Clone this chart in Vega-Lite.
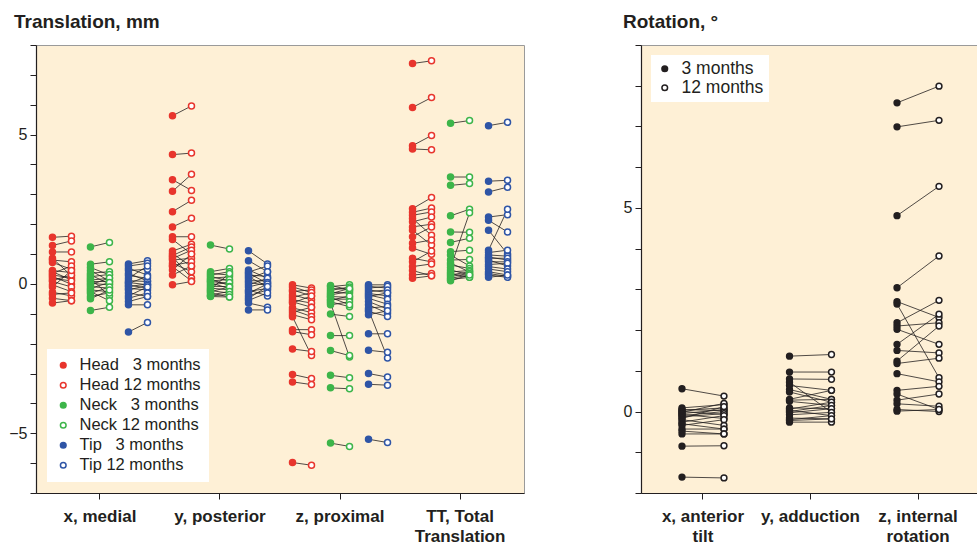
{
  "$schema": "https://vega.github.io/schema/vega-lite/v6.json",
  "padding": {"left": 8, "top": 12, "right": 0, "bottom": 0},
  "spacing": 97,
  "resolve": {"scale": {"fill": "independent", "stroke": "independent", "xOffset": "independent", "x": "independent", "y": "independent"}, "legend": {"fill": "independent", "stroke": "independent"}},
  "config": {
    "font": "Liberation Sans",
    "view": {"fill": "#FEF0D6", "stroke": "#9a9a9a", "strokeWidth": 1},
    "axis": {"domainColor": "#231f20", "tickColor": "#231f20", "labelColor": "#231f20", "labelFontSize": 16, "tickSize": 6, "grid": false, "labelFont": "Liberation Sans", "domainWidth": 1.2},
    "axisX": {"labelFontWeight": "bold", "labelFontSize": 17, "labelAngle": 0, "labelPadding": 9, "labelLineHeight": 20},
    "axisY": {"labelPadding": 3},
    "title": {"fontSize": 19, "fontWeight": "bold", "anchor": "start", "frame": "group", "color": "#231f20", "offset": 13},
    "legend": {"fillColor": "white", "labelFontSize": 16.5, "labelColor": "#231f20", "labelFont": "Liberation Sans", "symbolSize": 32, "symbolStrokeWidth": 1.5, "labelOffset": 8}
  },
  "datasets": {
    "trans": [
      {"c":"x, medial","s":1,"h3":1.56,"h12":1.60,"n3":1.24,"n12":1.39,"t3":0.67,"t12":0.78},
      {"c":"x, medial","s":2,"h3":1.29,"h12":1.44,"n3":0.66,"n12":0.74,"t3":0.60,"t12":0.69},
      {"c":"x, medial","s":3,"h3":1.07,"h12":1.07,"n3":0.55,"n12":0.30,"t3":0.52,"t12":0.30},
      {"c":"x, medial","s":4,"h3":0.86,"h12":0.27,"n3":0.45,"n12":0.10,"t3":0.45,"t12":0.49},
      {"c":"x, medial","s":5,"h3":0.80,"h12":0.74,"n3":0.36,"n12":0.41,"t3":0.35,"t12":0.10},
      {"c":"x, medial","s":6,"h3":0.72,"h12":0.49,"n3":0.30,"n12":0.00,"t3":0.28,"t12":0.19},
      {"c":"x, medial","s":7,"h3":0.45,"h12":0.38,"n3":0.24,"n12":0.32,"t3":0.19,"t12":0.60},
      {"c":"x, medial","s":8,"h3":0.41,"h12":0.13,"n3":0.18,"n12":-0.40,"t3":0.11,"t12":0.08},
      {"c":"x, medial","s":9,"h3":0.35,"h12":0.60,"n3":0.13,"n12":0.19,"t3":0.05,"t12":-0.03},
      {"c":"x, medial","s":10,"h3":0.30,"h12":0.20,"n3":0.08,"n12":0.08,"t3":0.02,"t12":0.25},
      {"c":"x, medial","s":11,"h3":0.25,"h12":-0.01,"n3":0.02,"n12":-0.03,"t3":-0.04,"t12":-0.14},
      {"c":"x, medial","s":12,"h3":0.19,"h12":0.10,"n3":-0.03,"n12":0.20,"t3":-0.09,"t12":0.00},
      {"c":"x, medial","s":13,"h3":0.12,"h12":0.30,"n3":-0.09,"n12":-0.14,"t3":-0.15,"t12":-0.20},
      {"c":"x, medial","s":14,"h3":0.08,"h12":-0.10,"n3":-0.15,"n12":0.05,"t3":-0.20,"t12":-0.05},
      {"c":"x, medial","s":15,"h3":-0.03,"h12":-0.26,"n3":-0.20,"n12":-0.26,"t3":-0.30,"t12":-0.42},
      {"c":"x, medial","s":16,"h3":-0.10,"h12":0.45,"n3":-0.26,"n12":-0.56,"t3":-0.40,"t12":-0.10},
      {"c":"x, medial","s":17,"h3":-0.28,"h12":-0.40,"n3":-0.32,"n12":-0.10,"t3":-0.48,"t12":-0.30},
      {"c":"x, medial","s":18,"h3":-0.35,"h12":-0.30,"n3":-0.42,"n12":-0.30,"t3":-0.59,"t12":-0.42},
      {"c":"x, medial","s":19,"h3":-0.48,"h12":-0.56,"n3":-0.50,"n12":-0.20,"t3":-0.70,"t12":-0.70},
      {"c":"x, medial","s":20,"h3":-0.64,"h12":-0.56,"n3":-0.89,"n12":-0.78,"t3":-1.61,"t12":-1.29},
      {"c":"y, posterior","s":1,"h3":5.63,"h12":5.96,"n3":1.30,"n12":1.17,"t3":1.11,"t12":0.67},
      {"c":"y, posterior","s":2,"h3":4.33,"h12":4.38,"n3":0.41,"n12":0.52,"t3":0.78,"t12":0.41},
      {"c":"y, posterior","s":3,"h3":3.49,"h12":3.13,"n3":0.35,"n12":0.30,"t3":0.47,"t12":0.19},
      {"c":"y, posterior","s":4,"h3":3.10,"h12":3.67,"n3":0.30,"n12":0.41,"t3":0.40,"t12":0.60},
      {"c":"y, posterior","s":5,"h3":2.42,"h12":2.80,"n3":0.25,"n12":0.10,"t3":0.36,"t12":0.02},
      {"c":"y, posterior","s":6,"h3":1.91,"h12":2.20,"n3":0.19,"n12":0.24,"t3":0.30,"t12":0.25},
      {"c":"y, posterior","s":7,"h3":1.58,"h12":1.58,"n3":0.15,"n12":-0.05,"t3":0.24,"t12":-0.09},
      {"c":"y, posterior","s":8,"h3":1.49,"h12":1.00,"n3":0.10,"n12":0.15,"t3":0.18,"t12":0.41},
      {"c":"y, posterior","s":9,"h3":1.10,"h12":1.33,"n3":0.08,"n12":0.02,"t3":0.11,"t12":0.10},
      {"c":"y, posterior","s":10,"h3":1.02,"h12":0.58,"n3":0.03,"n12":-0.15,"t3":0.05,"t12":-0.05},
      {"c":"y, posterior","s":11,"h3":0.95,"h12":1.24,"n3":-0.03,"n12":0.05,"t3":-0.03,"t12":0.19},
      {"c":"y, posterior","s":12,"h3":0.91,"h12":0.20,"n3":-0.08,"n12":-0.09,"t3":-0.10,"t12":0.05},
      {"c":"y, posterior","s":13,"h3":0.85,"h12":1.13,"n3":-0.14,"n12":-0.20,"t3":-0.20,"t12":-0.40},
      {"c":"y, posterior","s":14,"h3":0.80,"h12":0.86,"n3":-0.18,"n12":0.35,"t3":-0.25,"t12":-0.15},
      {"c":"y, posterior","s":15,"h3":0.69,"h12":0.41,"n3":-0.22,"n12":-0.31,"t3":-0.31,"t12":0.00},
      {"c":"y, posterior","s":16,"h3":0.62,"h12":0.74,"n3":-0.26,"n12":-0.10,"t3":-0.40,"t12":-0.20},
      {"c":"y, posterior","s":17,"h3":0.58,"h12":0.10,"n3":-0.30,"n12":-0.44,"t3":-0.48,"t12":-0.09},
      {"c":"y, posterior","s":18,"h3":0.47,"h12":1.00,"n3":-0.37,"n12":-0.25,"t3":-0.55,"t12":-0.30},
      {"c":"y, posterior","s":19,"h3":0.30,"h12":0.60,"n3":-0.40,"n12":-0.35,"t3":-0.64,"t12":-0.78},
      {"c":"y, posterior","s":20,"h3":-0.03,"h12":0.08,"n3":-0.42,"n12":-0.44,"t3":-0.87,"t12":-0.87},
      {"c":"z, proximal","s":1,"h3":-0.03,"h12":-0.14,"n3":-0.09,"n12":-0.03,"t3":-0.03,"t12":-0.03},
      {"c":"z, proximal","s":2,"h3":-0.10,"h12":-0.29,"n3":-0.15,"n12":-0.18,"t3":-0.08,"t12":-0.14},
      {"c":"z, proximal","s":3,"h3":-0.20,"h12":-0.40,"n3":-0.22,"n12":-0.10,"t3":-0.14,"t12":-0.08},
      {"c":"z, proximal","s":4,"h3":-0.25,"h12":-0.20,"n3":-0.28,"n12":-0.31,"t3":-0.20,"t12":-0.29},
      {"c":"z, proximal","s":5,"h3":-0.37,"h12":-0.53,"n3":-0.37,"n12":-0.25,"t3":-0.26,"t12":-0.20},
      {"c":"z, proximal","s":6,"h3":-0.45,"h12":-0.29,"n3":-0.42,"n12":-0.45,"t3":-0.32,"t12":-0.40},
      {"c":"z, proximal","s":7,"h3":-0.53,"h12":-0.64,"n3":-0.51,"n12":-0.51,"t3":-0.37,"t12":-0.51},
      {"c":"z, proximal","s":8,"h3":-0.60,"h12":-0.78,"n3":-0.55,"n12":-0.40,"t3":-0.42,"t12":-0.30},
      {"c":"z, proximal","s":9,"h3":-0.64,"h12":-0.40,"n3":-0.60,"n12":-0.76,"t3":-0.48,"t12":-0.68},
      {"c":"z, proximal","s":10,"h3":-0.80,"h12":-0.96,"n3":-0.64,"n12":-2.45,"t3":-0.59,"t12":-0.84},
      {"c":"z, proximal","s":11,"h3":-0.87,"h12":-1.09,"n3":-0.70,"n12":-0.60,"t3":-0.70,"t12":-0.98},
      {"c":"z, proximal","s":12,"h3":-0.95,"h12":-0.78,"n3":-1.01,"n12":-1.09,"t3":-0.81,"t12":-0.75},
      {"c":"z, proximal","s":13,"h3":-1.03,"h12":-1.20,"n3":-1.73,"n12":-1.73,"t3":-0.87,"t12":-2.48},
      {"c":"z, proximal","s":14,"h3":-1.10,"h12":-2.40,"n3":-2.23,"n12":-2.40,"t3":-0.92,"t12":-1.09},
      {"c":"z, proximal","s":15,"h3":-1.53,"h12":-1.53,"n3":-3.06,"n12":-3.14,"t3":-1.03,"t12":-0.90},
      {"c":"z, proximal","s":16,"h3":-1.60,"h12":-1.70,"n3":-3.48,"n12":-3.51,"t3":-1.67,"t12":-1.67},
      {"c":"z, proximal","s":17,"h3":-2.18,"h12":-2.26,"n3":-5.33,"n12":-5.44,"t3":-2.22,"t12":-2.29},
      {"c":"z, proximal","s":18,"h3":-3.03,"h12":-3.17,"n3":-0.05,"n12":-0.20,"t3":-3.00,"t12":-3.12},
      {"c":"z, proximal","s":19,"h3":-3.28,"h12":-3.37,"n3":-0.33,"n12":-0.15,"t3":-3.36,"t12":-3.39},
      {"c":"z, proximal","s":20,"h3":-5.98,"h12":-6.07,"n3":-0.45,"n12":-0.70,"t3":-5.20,"t12":-5.31},
      {"c":"TT, Total Translation","s":1,"h3":7.38,"h12":7.47,"n3":5.38,"n12":5.47,"t3":5.30,"t12":5.41},
      {"c":"TT, Total Translation","s":2,"h3":5.91,"h12":6.24,"n3":3.58,"n12":3.58,"t3":3.44,"t12":3.47},
      {"c":"TT, Total Translation","s":3,"h3":4.63,"h12":4.97,"n3":3.30,"n12":3.36,"t3":3.08,"t12":3.24},
      {"c":"TT, Total Translation","s":4,"h3":4.52,"h12":4.49,"n3":2.28,"n12":2.50,"t3":2.24,"t12":2.32},
      {"c":"TT, Total Translation","s":5,"h3":2.52,"h12":2.89,"n3":1.74,"n12":1.73,"t3":2.13,"t12":1.74},
      {"c":"TT, Total Translation","s":6,"h3":2.40,"h12":2.54,"n3":1.39,"n12":1.53,"t3":1.80,"t12":1.00},
      {"c":"TT, Total Translation","s":7,"h3":2.30,"h12":2.41,"n3":1.08,"n12":1.13,"t3":1.13,"t12":2.50},
      {"c":"TT, Total Translation","s":8,"h3":2.19,"h12":1.63,"n3":0.97,"n12":0.60,"t3":1.05,"t12":1.13},
      {"c":"TT, Total Translation","s":9,"h3":2.08,"h12":2.24,"n3":0.80,"n12":0.82,"t3":0.97,"t12":0.93},
      {"c":"TT, Total Translation","s":10,"h3":1.91,"h12":2.00,"n3":0.70,"n12":0.40,"t3":0.90,"t12":0.80},
      {"c":"TT, Total Translation","s":11,"h3":1.80,"h12":1.30,"n3":0.63,"n12":0.52,"t3":0.86,"t12":0.86},
      {"c":"TT, Total Translation","s":12,"h3":1.58,"h12":1.91,"n3":0.55,"n12":2.38,"t3":0.80,"t12":0.60},
      {"c":"TT, Total Translation","s":13,"h3":1.36,"h12":1.47,"n3":0.47,"n12":0.30,"t3":0.74,"t12":0.74},
      {"c":"TT, Total Translation","s":14,"h3":1.20,"h12":0.99,"n3":0.40,"n12":0.45,"t3":0.65,"t12":0.69},
      {"c":"TT, Total Translation","s":15,"h3":0.86,"h12":0.74,"n3":0.35,"n12":0.22,"t3":0.58,"t12":0.50},
      {"c":"TT, Total Translation","s":16,"h3":0.74,"h12":1.10,"n3":0.30,"n12":0.41,"t3":0.50,"t12":0.41},
      {"c":"TT, Total Translation","s":17,"h3":0.58,"h12":0.67,"n3":0.25,"n12":0.35,"t3":0.41,"t12":0.30},
      {"c":"TT, Total Translation","s":18,"h3":0.45,"h12":0.27,"n3":0.19,"n12":0.30,"t3":0.35,"t12":0.25},
      {"c":"TT, Total Translation","s":19,"h3":0.30,"h12":0.35,"n3":0.15,"n12":0.22,"t3":0.30,"t12":0.22},
      {"c":"TT, Total Translation","s":20,"h3":0.19,"h12":0.27,"n3":0.11,"n12":0.30,"t3":0.22,"t12":0.30}
    ],
    "rot": [
      {"c":"x, anterior tilt","s":1,"m3":0.56,"m12":0.38},
      {"c":"x, anterior tilt","s":2,"m3":0.09,"m12":0.17},
      {"c":"x, anterior tilt","s":3,"m3":0.05,"m12":0.02},
      {"c":"x, anterior tilt","s":4,"m3":0.03,"m12":0.09},
      {"c":"x, anterior tilt","s":5,"m3":0.00,"m12":-0.07},
      {"c":"x, anterior tilt","s":6,"m3":-0.02,"m12":0.20},
      {"c":"x, anterior tilt","s":7,"m3":-0.05,"m12":0.05},
      {"c":"x, anterior tilt","s":8,"m3":-0.07,"m12":-0.17},
      {"c":"x, anterior tilt","s":9,"m3":-0.10,"m12":0.00},
      {"c":"x, anterior tilt","s":10,"m3":-0.13,"m12":-0.05},
      {"c":"x, anterior tilt","s":11,"m3":-0.17,"m12":0.12},
      {"c":"x, anterior tilt","s":12,"m3":-0.20,"m12":-0.34},
      {"c":"x, anterior tilt","s":13,"m3":-0.26,"m12":-0.10},
      {"c":"x, anterior tilt","s":14,"m3":-0.30,"m12":-0.43},
      {"c":"x, anterior tilt","s":15,"m3":-0.34,"m12":-0.20},
      {"c":"x, anterior tilt","s":16,"m3":-0.43,"m12":-0.43},
      {"c":"x, anterior tilt","s":17,"m3":-0.48,"m12":-0.55},
      {"c":"x, anterior tilt","s":18,"m3":-0.55,"m12":-0.55},
      {"c":"x, anterior tilt","s":19,"m3":-0.85,"m12":-0.84},
      {"c":"x, anterior tilt","s":20,"m3":-1.61,"m12":-1.63},
      {"c":"y, adduction","s":1,"m3":1.36,"m12":1.40},
      {"c":"y, adduction","s":2,"m3":0.97,"m12":0.97},
      {"c":"y, adduction","s":3,"m3":0.80,"m12":0.79},
      {"c":"y, adduction","s":4,"m3":0.72,"m12":-0.02},
      {"c":"y, adduction","s":5,"m3":0.64,"m12":0.52},
      {"c":"y, adduction","s":6,"m3":0.54,"m12":0.30},
      {"c":"y, adduction","s":7,"m3":0.48,"m12":0.23},
      {"c":"y, adduction","s":8,"m3":0.28,"m12":0.30},
      {"c":"y, adduction","s":9,"m3":0.25,"m12":0.15},
      {"c":"y, adduction","s":10,"m3":0.09,"m12":0.07},
      {"c":"y, adduction","s":11,"m3":0.06,"m12":0.23},
      {"c":"y, adduction","s":12,"m3":0.03,"m12":-0.10},
      {"c":"y, adduction","s":13,"m3":0.00,"m12":0.15},
      {"c":"y, adduction","s":14,"m3":-0.03,"m12":0.07},
      {"c":"y, adduction","s":15,"m3":-0.08,"m12":-0.02},
      {"c":"y, adduction","s":16,"m3":-0.16,"m12":-0.18},
      {"c":"y, adduction","s":17,"m3":-0.20,"m12":-0.10},
      {"c":"y, adduction","s":18,"m3":-0.26,"m12":-0.26},
      {"c":"y, adduction","s":19,"m3":-0.22,"m12":-0.18},
      {"c":"y, adduction","s":20,"m3":0.30,"m12":0.52},
      {"c":"z, internal rotation","s":1,"m3":7.58,"m12":7.99},
      {"c":"z, internal rotation","s":2,"m3":6.99,"m12":7.15},
      {"c":"z, internal rotation","s":3,"m3":4.81,"m12":5.53},
      {"c":"z, internal rotation","s":4,"m3":3.04,"m12":3.82},
      {"c":"z, internal rotation","s":5,"m3":2.70,"m12":2.31},
      {"c":"z, internal rotation","s":6,"m3":2.64,"m12":0.83},
      {"c":"z, internal rotation","s":7,"m3":2.18,"m12":2.73},
      {"c":"z, internal rotation","s":8,"m3":2.10,"m12":2.18},
      {"c":"z, internal rotation","s":9,"m3":2.02,"m12":1.65},
      {"c":"z, internal rotation","s":10,"m3":1.65,"m12":2.39},
      {"c":"z, internal rotation","s":11,"m3":1.50,"m12":1.44},
      {"c":"z, internal rotation","s":12,"m3":1.24,"m12":2.10},
      {"c":"z, internal rotation","s":13,"m3":1.18,"m12":1.31},
      {"c":"z, internal rotation","s":14,"m3":0.93,"m12":0.73},
      {"c":"z, internal rotation","s":15,"m3":0.52,"m12":0.62},
      {"c":"z, internal rotation","s":16,"m3":0.43,"m12":0.05},
      {"c":"z, internal rotation","s":17,"m3":0.28,"m12":0.43},
      {"c":"z, internal rotation","s":18,"m3":0.19,"m12":0.13},
      {"c":"z, internal rotation","s":19,"m3":0.05,"m12":0.00},
      {"c":"z, internal rotation","s":20,"m3":0.01,"m12":0.05}
    ]
  },
  "hconcat": [
    {
      "title": {"text": "Translation, mm", "dx": -22},
      "width": 488,
      "height": 448,
      "data": {"name": "trans"},
      "encoding": {
        "x": {"field": "c", "type": "nominal", "title": null,
              "scale": {"domain": ["x, medial", "y, posterior", "z, proximal", "TT, Total Translation"], "paddingInner": 0.05, "paddingOuter": 0.058},
              "axis": {"labelExpr": "datum.label == 'TT, Total Translation' ? ['TT, Total', 'Translation'] : datum.label"}},
        "y": {"field": "v", "type": "quantitative", "title": null,
              "scale": {"domain": [-7, 8], "nice": false, "zero": false},
              "axis": {"values": [-7,-6,-5,-4,-3,-2,-1,0,1,2,3,4,5,6,7,8], "labelExpr": "datum.value % 5 === 0 ? datum.label : ''"}},
        "xOffset": {"field": "k", "type": "nominal", "scale": {"type": "point", "domain": ["h3","h12","n3","n12","t3","t12"], "padding": 0.5}}
      },
      "layer": [
        {"mark": {"type": "rule", "strokeDash": [0.1, 7.2], "strokeCap": "round", "strokeWidth": 2.6, "color": "#231f20"},
         "encoding": {"y": {"datum": 0}, "x": null, "xOffset": null}},
        {"transform": [{"fold": ["h3","h12"], "as": ["k","v"]}],
         "mark": {"type": "line", "color": "#231f20", "strokeWidth": 0.8},
         "encoding": {"detail": [{"field": "c"}, {"field": "s"}]}},
        {"transform": [{"fold": ["n3","n12"], "as": ["k","v"]}],
         "mark": {"type": "line", "color": "#231f20", "strokeWidth": 0.8},
         "encoding": {"detail": [{"field": "c"}, {"field": "s"}]}},
        {"transform": [{"fold": ["t3","t12"], "as": ["k","v"]}],
         "mark": {"type": "line", "color": "#231f20", "strokeWidth": 0.8},
         "encoding": {"detail": [{"field": "c"}, {"field": "s"}]}},
        {"transform": [{"fold": ["h3","h12","n3","n12","t3","t12"], "as": ["k","v"]}],
         "mark": {"type": "point", "shape": "circle", "size": 36, "strokeWidth": 1.5, "opacity": 1},
         "encoding": {
           "fill": {"field": "k", "type": "nominal", "title": null,
                    "scale": {"domain": ["h3","h12","n3","n12","t3","t12"], "range": ["#E8352D","#ffffff","#3DB54A","#ffffff","#2F55A6","#ffffff"]},
                    "legend": {"orient": "bottom-left", "offset": 11, "padding": 8, "rowPadding": 3,
                               "labelExpr": "datum.label == 'h3' ? 'Head \u20073 months' : datum.label == 'h12' ? 'Head 12 months' : datum.label == 'n3' ? 'Neck \u20073 months' : datum.label == 'n12' ? 'Neck 12 months' : datum.label == 't3' ? 'Tip \u20073 months' : 'Tip 12 months'",
                               "encode": {"symbols": {"update": {"stroke": {"signal": "datum.value == 'h3' || datum.value == 'h12' ? '#E8352D' : datum.value == 'n3' || datum.value == 'n12' ? '#3DB54A' : '#2F55A6'"}, "strokeWidth": {"value": 1.5}}}}}},
           "stroke": {"field": "k", "type": "nominal", "title": null, "legend": null,
                    "scale": {"domain": ["h3","h12","n3","n12","t3","t12"], "range": ["#E8352D","#E8352D","#3DB54A","#3DB54A","#2F55A6","#2F55A6"]}}
         }}
      ]
    },
    {
      "title": {"text": "Rotation, °", "dx": -18},
      "width": 339,
      "height": 448,
      "data": {"name": "rot"},
      "encoding": {
        "x": {"field": "c", "type": "nominal", "title": null,
              "scale": {"domain": ["x, anterior tilt", "y, adduction", "z, internal rotation"], "paddingInner": 0.219, "paddingOuter": 0.186},
              "axis": {"labelExpr": "datum.label == 'x, anterior tilt' ? ['x, anterior', 'tilt'] : datum.label == 'z, internal rotation' ? ['z, internal', 'rotation'] : datum.label"}},
        "y": {"field": "v", "type": "quantitative", "title": null,
              "scale": {"domain": [-2, 9], "nice": false, "zero": false},
              "axis": {"values": [-2,-1,0,1,2,3,4,5,6,7,8,9], "labelExpr": "datum.value % 5 === 0 ? datum.label : ''"}},
        "xOffset": {"field": "t", "type": "nominal", "scale": {"type": "point", "domain": ["m3","m12"], "padding": 0.5}}
      },
      "layer": [
        {"mark": {"type": "rule", "strokeDash": [0.1, 7.2], "strokeCap": "round", "strokeWidth": 2.6, "color": "#231f20"},
         "encoding": {"y": {"datum": 0}, "x": null, "xOffset": null}},
        {"transform": [{"fold": ["m3","m12"], "as": ["t","v"]}],
         "mark": {"type": "line", "color": "#231f20", "strokeWidth": 0.8},
         "encoding": {"detail": [{"field": "c"}, {"field": "s"}]}},
        {"transform": [{"fold": ["m3","m12"], "as": ["t","v"]}],
         "mark": {"type": "point", "shape": "circle", "size": 34, "strokeWidth": 1.5, "opacity": 1, "stroke": "#231f20"},
         "encoding": {
           "fill": {"field": "t", "type": "nominal", "title": null,
                    "scale": {"domain": ["m3","m12"], "range": ["#231f20","#ffffff"]},
                    "legend": {"orient": "top-left", "offset": 10, "padding": 5, "rowPadding": 0, "labelFontSize": 17.5, "symbolStrokeColor": "#231f20",
                               "labelExpr": "datum.label == 'm3' ? '\u20073 months' : '12 months'"}}
         }}
      ]
    }
  ]
}
